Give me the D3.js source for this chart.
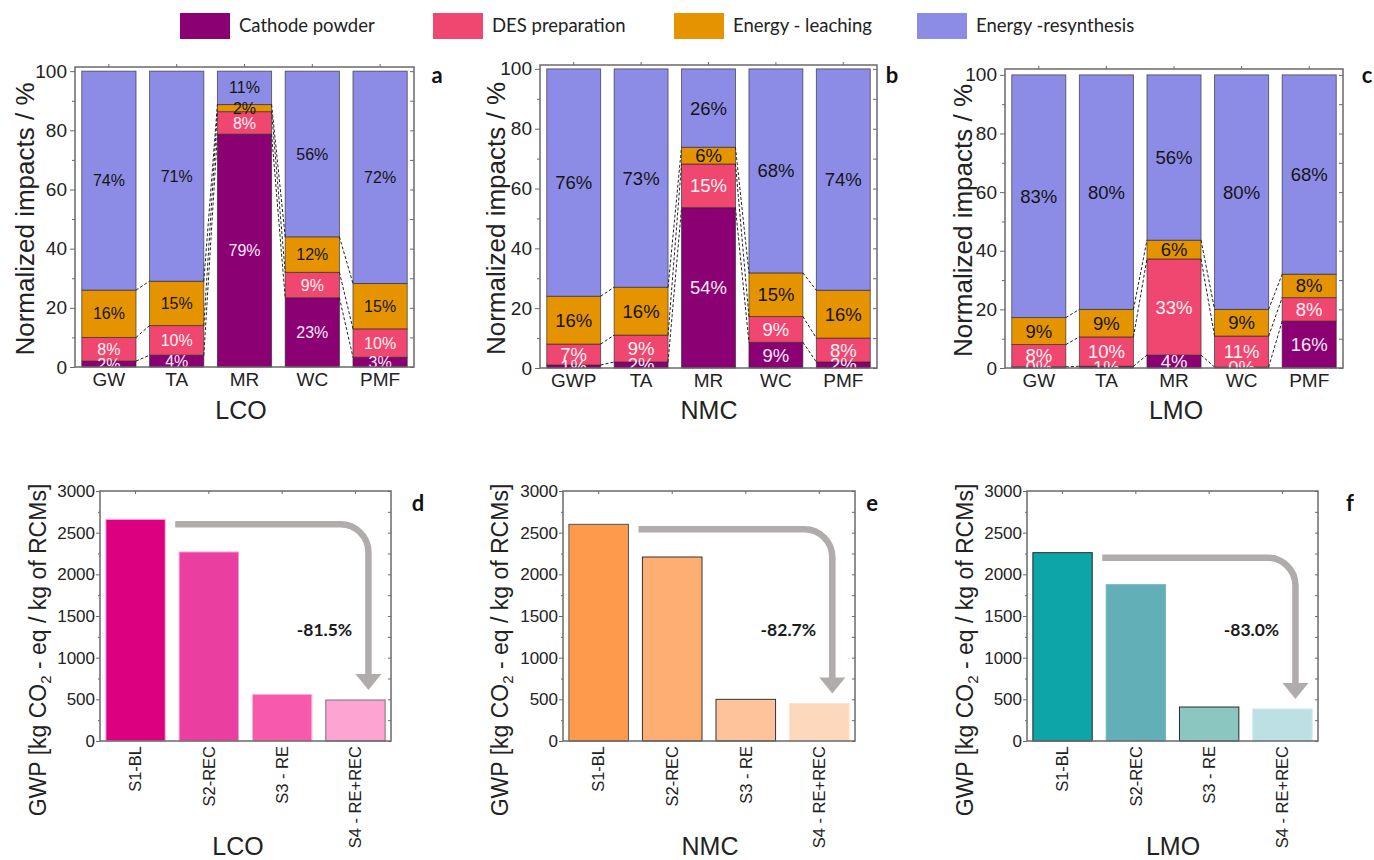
<!DOCTYPE html>
<html>
<head>
<meta charset="utf-8">
<script src="https://cdn.jsdelivr.net/npm/d3@7"></script>
<style>
  body { margin: 0; background: #fff; }
  svg { display: block; font-family: "Liberation Sans", Arial, sans-serif; }
</style>
</head>
<body>
<svg id="chart" width="1374" height="860"></svg>
<script>
// ---------------- data ----------------
const legendNames = ["Cathode powder", "DES preparation", "Energy - leaching", "Energy -resynthesis"];

// Normalized contribution (%) of each process step, per impact category
const lcoCategories = ["GW", "TA", "MR", "WC", "PMF"];
const lcoCathode     = [2, 4, 78.7, 23.4, 3.3];
const lcoDES         = [8, 10, 7.6, 8.6, 9.6];
const lcoLeaching    = [16, 15, 2.4, 12, 15.3];
const lcoResynthesis = [74, 71, 11.3, 56, 71.8];

const nmcCategories = ["GWP", "TA", "MR", "WC", "PMF"];
const nmcCathode     = [1, 2, 53.6, 8.6, 2];
const nmcDES         = [7, 9, 14.6, 8.6, 8];
const nmcLeaching    = [16, 16, 5.6, 14.6, 16];
const nmcResynthesis = [76, 73, 26.2, 68.2, 74];

const lmoCategories = ["GW", "TA", "MR", "WC", "PMF"];
const lmoCathode     = [0.4, 0.6, 4.4, 0.3, 16];
const lmoDES         = [7.6, 10, 32.8, 10.6, 8];
const lmoLeaching    = [9.2, 9.4, 6.4, 9.1, 8];
const lmoResynthesis = [82.8, 80, 56.4, 80, 68];

// GWP per scenario (kg CO2-eq / kg of RCMs)
const scenarios = ["S1-BL", "S2-REC", "S3 - RE", "S4 - RE+REC"];
const lcoGWP = [2660, 2268, 560, 492];
const nmcGWP = [2600, 2208, 500, 450];
const lmoGWP = [2260, 1876, 408, 384];
const reductionLabels = ["-81.5%", "-82.7%", "-83.0%"];

const percentTicks = [0, 20, 40, 60, 80, 100];
const gwpTicks = [0, 500, 1000, 1500, 2000, 2500, 3000];

// ---------------- styles ----------------
const segmentColors = ["#8b0073", "#ef476f", "#e59400", "#8c8ce6"];
const segmentLabelColors = ["#fbeaf7", "#fff1f4", "#141414", "#141414"];
const frameColor = "#6a6a6a";
const arrowColor = "#b1acac";
const axisFont = "'Liberation Sans', Arial, sans-serif";
const noteFont = "Lato, 'Open Sans', sans-serif";

const svg = d3.select("#chart");
const fmtPct = d3.format(".0f");

// ---------------- legend ----------------
const legendX = [180, 433, 674, 917];
const legend = svg.append("g");
legendNames.forEach((name, i) => {
  legend.append("rect")
    .attr("x", legendX[i]).attr("y", 13).attr("width", 50).attr("height", 26)
    .attr("fill", segmentColors[i]);
  legend.append("text")
    .attr("x", legendX[i] + 59).attr("y", 26).attr("dy", "0.35em")
    .attr("font-family", noteFont)
    .attr("font-size", 18.5).attr("fill", "#222")
    .text(name);
});

// ---------------- stacked percentage panels ----------------
const stackedPanels = [
  { id: "a", title: "LCO", cats: lcoCategories, series: [lcoCathode, lcoDES, lcoLeaching, lcoResynthesis],
    left: 75, right: 414, top: 67, bottom: 367, yMax: 101.4, labelSize: 16,
    yTitleX: 25, letterX: 437, titleX: 241 },
  { id: "b", title: "NMC", cats: nmcCategories, series: [nmcCathode, nmcDES, nmcLeaching, nmcResynthesis],
    left: 540, right: 877, top: 65, bottom: 368, yMax: 101.3, labelSize: 18.5,
    yTitleX: 496, letterX: 892, titleX: 709 },
  { id: "c", title: "LMO", cats: lmoCategories, series: [lmoCathode, lmoDES, lmoLeaching, lmoResynthesis],
    left: 1005, right: 1343, top: 69, bottom: 368, yMax: 102, labelSize: 18.5,
    yTitleX: 963, letterX: 1367, titleX: 1176 }
];

const keys = ["cathode", "des", "leaching", "resynthesis"];

stackedPanels.forEach(p => {
  const g = svg.append("g");
  const x = d3.scaleBand().domain(p.cats).range([p.left, p.right]).paddingInner(0.2).paddingOuter(0.1);
  const y = d3.scaleLinear().domain([0, p.yMax]).range([p.bottom, p.top]);
  const rows = p.cats.map((c, i) => {
    const r = { cat: c };
    keys.forEach((k, j) => r[k] = p.series[j][i]);
    return r;
  });
  const layers = d3.stack().keys(keys)(rows);
  const bw = x.bandwidth();

  const clipId = "clip-" + p.id;
  svg.append("clipPath").attr("id", clipId).append("rect")
    .attr("x", p.left).attr("y", p.top).attr("width", p.right - p.left).attr("height", p.bottom - p.top);

  // bar segments
  layers.forEach((layer, k) => {
    g.append("g").selectAll("rect").data(layer).join("rect")
      .attr("x", d => x(d.data.cat))
      .attr("y", d => y(d[1]))
      .attr("width", bw)
      .attr("height", d => y(d[0]) - y(d[1]))
      .attr("fill", segmentColors[k])
      .attr("stroke", "#2a2a2a").attr("stroke-opacity", 0.7).attr("stroke-width", 0.9);
  });

  // dashed links between segment boundaries of neighbouring bars
  const links = g.append("g").attr("fill", "none").attr("stroke", "#222")
    .attr("stroke-width", 1).attr("stroke-dasharray", "3,2");
  for (let k = 0; k < 3; k++) {
    for (let i = 0; i < p.cats.length - 1; i++) {
      links.append("line")
        .attr("x1", x(p.cats[i]) + bw).attr("y1", y(layers[k][i][1]))
        .attr("x2", x(p.cats[i + 1])).attr("y2", y(layers[k][i + 1][1]));
    }
  }

  // segment value labels
  const lab = g.append("g").attr("clip-path", `url(#${clipId})`)
    .attr("text-anchor", "middle").attr("font-size", p.labelSize);
  layers.forEach((layer, k) => {
    lab.append("g").selectAll("text").data(layer).join("text")
      .attr("x", d => x(d.data.cat) + bw / 2)
      .attr("y", d => y((d[0] + d[1]) / 2))
      .attr("dy", "0.35em")
      .attr("fill", segmentLabelColors[k])
      .text((d, i) => fmtPct(p.series[k][i]) + "%");
  });

  // axes
  const yAxis = g.append("g").attr("transform", `translate(${p.left},0)`)
    .call(d3.axisLeft(y).tickValues(percentTicks).tickSize(5).tickPadding(3));
  yAxis.selectAll("text").attr("font-size", 19).attr("font-family", axisFont).attr("fill", "#222");
  g.append("g").attr("transform", `translate(${p.left},0)`)
    .call(d3.axisLeft(y).tickValues([10, 30, 50, 70, 90]).tickSize(3).tickFormat(""));
  g.append("g").attr("transform", `translate(${p.right},0)`)
    .call(d3.axisLeft(y).tickValues(d3.range(0, 101, 10)).tickSize(4).tickFormat(""));
  const xAxis = g.append("g").attr("transform", `translate(0,${p.bottom})`)
    .call(d3.axisBottom(x).tickSize(0).tickPadding(6));
  xAxis.selectAll("text").attr("font-size", 19).attr("font-family", axisFont).attr("fill", "#222");
  g.append("g").attr("transform", `translate(0,${p.top})`)
    .call(d3.axisTop(x).tickSize(3).tickFormat(""));
  g.selectAll(".domain").remove();
  g.selectAll(".tick line").attr("stroke", frameColor);

  g.append("rect").attr("x", p.left).attr("y", p.top)
    .attr("width", p.right - p.left).attr("height", p.bottom - p.top)
    .attr("fill", "none").attr("stroke", frameColor).attr("stroke-width", 1.5);

  // titles
  g.append("text")
    .attr("transform", `translate(${p.yTitleX},${(p.top + p.bottom) / 2 + 2}) rotate(-90)`)
    .attr("text-anchor", "middle").attr("dy", "0.35em")
    .attr("font-size", 26).attr("fill", "#222")
    .text("Normalized impacts / %");
  g.append("text").attr("x", p.titleX).attr("y", 419)
    .attr("text-anchor", "middle").attr("font-size", 25).attr("fill", "#222")
    .text(p.title);
  g.append("text").attr("x", p.letterX).attr("y", 75).attr("dy", "0.35em")
    .attr("text-anchor", "middle")
    .attr("font-family", noteFont).attr("font-weight", "bold")
    .attr("font-size", 22).attr("fill", "#111")
    .text(p.id);
});

// ---------------- GWP scenario panels ----------------
const gwpPanels = [
  { id: "d", title: "LCO", values: lcoGWP, label: reductionLabels[0],
    colors: ["#dc0080", "#ea3fa0", "#f75aab", "#fda4d2"],
    strokes: ["#f5b0d8", "#f0a0cc", "#f9b5d6", "#777"],
    left: 100, right: 391, letterX: 418, yTitleX: 38, titleX: 238 },
  { id: "e", title: "NMC", values: nmcGWP, label: reductionLabels[1],
    colors: ["#fe9a4c", "#feae72", "#fec39a", "#fed8bd"],
    strokes: ["#555", "#333", "#333", "#fde3cf"],
    left: 563, right: 855, letterX: 872, yTitleX: 500, titleX: 710 },
  { id: "f", title: "LMO", values: lmoGWP, label: reductionLabels[2],
    colors: ["#0ea5a8", "#62afb8", "#8cc6c1", "#bde0e4"],
    strokes: ["#2a2a2a", "#6fb8c0", "#2a2a2a", "#cde8ec"],
    left: 1027, right: 1318, letterX: 1350, yTitleX: 965, titleX: 1173 }
];

gwpPanels.forEach(p => {
  const top = 491, bottom = 741;
  const g = svg.append("g");
  const x = d3.scaleBand().domain(scenarios).range([p.left, p.right]).paddingInner(0.19).paddingOuter(0.08);
  const y = d3.scaleLinear().domain([0, 3000]).range([bottom, top]);
  const bw = x.bandwidth();

  g.append("g").selectAll("rect").data(p.values).join("rect")
    .attr("x", (d, i) => x(scenarios[i]))
    .attr("y", d => y(d))
    .attr("width", bw)
    .attr("height", d => bottom - y(d))
    .attr("fill", (d, i) => p.colors[i])
    .attr("stroke", (d, i) => p.strokes[i]).attr("stroke-width", 1);

  // reduction arrow from S1 over to S4
  const r = 28;
  const xs = x(scenarios[0]) + bw + 10;
  const ya = y(p.values[0]) + 5;
  const xv = x(scenarios[3]) + bw / 2 + 13;
  const tipY = y(p.values[3]) - 10;
  const headLen = 16, headHalf = 13;
  const path = d3.path();
  path.moveTo(xs, ya);
  path.lineTo(xv - r, ya);
  path.arcTo(xv, ya, xv, ya + r, r);
  path.lineTo(xv, tipY - headLen + 1);
  g.append("path").attr("d", path.toString())
    .attr("fill", "none").attr("stroke", arrowColor).attr("stroke-width", 6.5);
  g.append("path")
    .attr("d", `M${xv - headHalf},${tipY - headLen}L${xv + headHalf},${tipY - headLen}L${xv},${tipY}Z`)
    .attr("fill", arrowColor);
  g.append("text").attr("x", xv - 44).attr("y", y(1330)).attr("dy", "0.35em")
    .attr("text-anchor", "middle")
    .attr("font-family", noteFont).attr("font-weight", "bold")
    .attr("font-size", 17.5).attr("fill", "#1a1a1a")
    .text(p.label);

  // axes
  const yAxis = g.append("g").attr("transform", `translate(${p.left},0)`)
    .call(d3.axisLeft(y).tickValues(gwpTicks).tickFormat(d3.format("d")).tickSize(4).tickPadding(1));
  yAxis.selectAll("text").attr("font-size", 17).attr("font-family", axisFont).attr("fill", "#222");
  g.append("g").attr("transform", `translate(${p.left},0)`)
    .call(d3.axisLeft(y).tickValues(d3.range(250, 3000, 500)).tickSize(2).tickFormat(""));
  g.append("g").attr("transform", `translate(${p.right},0)`)
    .call(d3.axisLeft(y).tickValues(d3.range(0, 3001, 250)).tickSize(3).tickFormat(""));
  const xAxis = g.append("g").attr("transform", `translate(0,${bottom})`)
    .call(d3.axisBottom(x).tickSize(0));
  xAxis.selectAll("text")
    .attr("font-size", 16.5).attr("font-family", axisFont).attr("fill", "#222")
    .attr("transform", "rotate(-90)")
    .attr("text-anchor", "end")
    .attr("x", -5).attr("y", 0).attr("dy", "0.35em");
  g.append("g").attr("transform", `translate(0,${top})`)
    .call(d3.axisTop(x).tickSize(-3).tickFormat(""));
  g.selectAll(".domain").remove();
  g.selectAll(".tick line").attr("stroke", frameColor);

  g.append("rect").attr("x", p.left).attr("y", top)
    .attr("width", p.right - p.left).attr("height", bottom - top)
    .attr("fill", "none").attr("stroke", frameColor).attr("stroke-width", 1.5);

  // titles
  const yt = g.append("text")
    .attr("transform", `translate(${p.yTitleX},${650}) rotate(-90)`)
    .attr("text-anchor", "middle").attr("dy", "0.35em")
    .attr("font-size", 23).attr("fill", "#222");
  yt.append("tspan").text("GWP [kg CO");
  yt.append("tspan").attr("font-size", 15).attr("dy", "0.35em").text("2");
  yt.append("tspan").attr("dy", "-0.23em").text(" - eq / kg of RCMs]");

  g.append("text").attr("x", p.titleX).attr("y", 855)
    .attr("text-anchor", "middle").attr("font-size", 25).attr("fill", "#222")
    .text(p.title);
  g.append("text").attr("x", p.letterX).attr("y", 503).attr("dy", "0.35em")
    .attr("text-anchor", "middle")
    .attr("font-family", noteFont).attr("font-weight", "bold")
    .attr("font-size", 22).attr("fill", "#111")
    .text(p.id);
});
</script>
</body>
</html>
